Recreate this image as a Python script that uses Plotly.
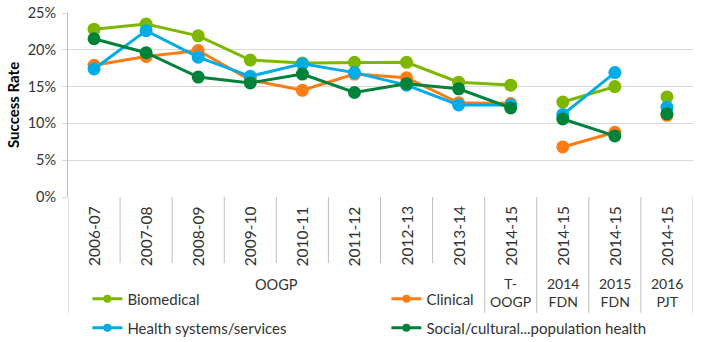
import plotly.graph_objects as go

# ---------------- data ----------------
years = ["2006-07", "2007-08", "2008-09", "2009-10", "2010-11", "2011-12",
         "2012-13", "2013-14", "2014-15", "2014-15", "2014-15", "2014-15"]
group_labels = ["OOGP", "T-<br>OOGP", "2014<br>FDN", "2015<br>FDN", "2016<br>PJT"]
group_sizes = [8, 1, 1, 1, 1]
# line segments (points connected within the same segment)
segment_id = [0, 0, 0, 0, 0, 0, 0, 0, 0, 1, 1, 2]

series_names = ["Biomedical", "Clinical", "Health systems/services",
                "Social/cultural...population health"]
biomedical = [22.8, 23.5, 21.9, 18.6, 18.2, 18.3, 18.3, 15.6, 15.2, 12.9, 15.0, 13.6]
clinical = [17.9, 19.1, 19.9, 15.9, 14.5, 16.7, 16.2, 12.8, 12.7, 6.8, 8.8, 11.1]
health_sys = [17.4, 22.6, 19.0, 16.4, 18.1, 16.9, 15.2, 12.5, 12.5, 11.2, 16.9, 12.2]
social = [21.5, 19.6, 16.3, 15.5, 16.7, 14.2, 15.4, 14.7, 12.1, 10.6, 8.3, 11.3]
series_values = [biomedical, clinical, health_sys, social]
colors = ["#7DB700", "#FF7B13", "#00ACE8", "#00823B"]

y_ticks = [0, 5, 10, 15, 20, 25]

# ---------------- figure ----------------
fig = go.Figure()
n = len(years)


def with_gaps(vals):
    gx, gy = [], []
    for i in range(n):
        if i > 0 and segment_id[i] != segment_id[i - 1]:
            gx.append(i - 0.5)
            gy.append(None)
        gx.append(i)
        gy.append(vals[i] / 100)
    return gx, gy


for name, vals, col in zip(series_names, series_values, colors):
    gx, gy = with_gaps(vals)
    fig.add_trace(go.Scatter(
        x=gx, y=gy, mode="lines+markers", name=name, showlegend=False,
        connectgaps=False,
        line=dict(color=col, width=3),
        marker=dict(color=col, size=13),
    ))

# legend entries (two rows)
for k, (name, col) in enumerate(zip(series_names, colors)):
    fig.add_trace(go.Scatter(
        x=[None], y=[None], mode="lines+markers", name=name,
        line=dict(color=col, width=3), marker=dict(color=col, size=8),
        legend="legend" if k < 2 else "legend2",
    ))

txt_col = "#333333"
font_family = "Lato, 'Open Sans', sans-serif"

ann = []
# rotated category labels
for i, lab in enumerate(years):
    ann.append(dict(x=i, y=-0.212, xref="x", yref="paper", text=lab,
                    textangle=-90, showarrow=False, xanchor="center",
                    yanchor="middle", font=dict(size=15.5, color=txt_col)))

# group labels and separator lines
shapes = []
line_col = "#BFBFBF"
start = 0
for gi, (glab, gsz) in enumerate(zip(group_labels, group_sizes)):
    end = start + gsz
    center = (start + end - 1) / 2
    if gsz > 1:
        ann.append(dict(x=center, y=-0.473, xref="x", yref="paper", text=glab,
                        showarrow=False, xanchor="center", yanchor="middle",
                        font=dict(size=14.5, color=txt_col)))
    else:
        ann.append(dict(x=center, y=-0.52, xref="x", yref="paper", text=glab,
                        showarrow=False, xanchor="center", yanchor="middle",
                        font=dict(size=14, color=txt_col)))
    # inner separators
    for j in range(start + 1, end):
        shapes.append(dict(type="line", xref="x", yref="paper",
                           x0=j - 0.5, x1=j - 0.5, y0=0, y1=-0.359,
                           line=dict(color=line_col, width=1)))
    # outer separator at group start
    shapes.append(dict(type="line", xref="x", yref="paper",
                       x0=start - 0.5, x1=start - 0.5, y0=0, y1=-0.63,
                       line=dict(color=line_col, width=1)))
    start = end
shapes.append(dict(type="line", xref="x", yref="paper",
                   x0=n - 0.5, x1=n - 0.5, y0=0, y1=-0.63,
                   line=dict(color=line_col, width=1)))

# y axis title
ann.append(dict(x=-0.088, y=0.5, xref="paper", yref="paper",
                text="<b>Success Rate</b>", textangle=-90, showarrow=False,
                xanchor="center", yanchor="middle",
                font=dict(size=15, color="#000000")))

fig.update_layout(
    width=701, height=342,
    margin=dict(l=68, r=8, t=13, b=145, autoexpand=False),
    paper_bgcolor="white", plot_bgcolor="white",
    font=dict(family=font_family, size=14, color=txt_col),
    xaxis=dict(range=[-0.5, n - 0.5], showticklabels=False, showgrid=False,
               zeroline=False, showline=False, fixedrange=True),
    yaxis=dict(range=[0, 0.25], tickvals=[v / 100 for v in y_ticks],
               ticktext=[f"{v}%" for v in y_ticks],
               showgrid=True, gridcolor="#D9D9D9", gridwidth=1,
               zeroline=False, showline=True, linecolor="#BFBFBF",
               ticks="outside", ticklen=5, tickcolor="#D9D9D9",
               ticklabelstandoff=3,
               tickfont=dict(size=14.5, color=txt_col)),
    legend=dict(orientation="h", x=0.031, y=-0.554, xanchor="left",
                yanchor="middle", entrywidth=254, entrywidthmode="pixels",
                bgcolor="rgba(0,0,0,0)", font=dict(size=15, color=txt_col)),
    legend2=dict(orientation="h", x=0.031, y=-0.712, xanchor="left",
                 yanchor="middle", entrywidth=254, entrywidthmode="pixels",
                 bgcolor="rgba(0,0,0,0)", font=dict(size=15, color=txt_col)),
    annotations=ann,
    shapes=shapes,
)

fig.write_html("out.html")
